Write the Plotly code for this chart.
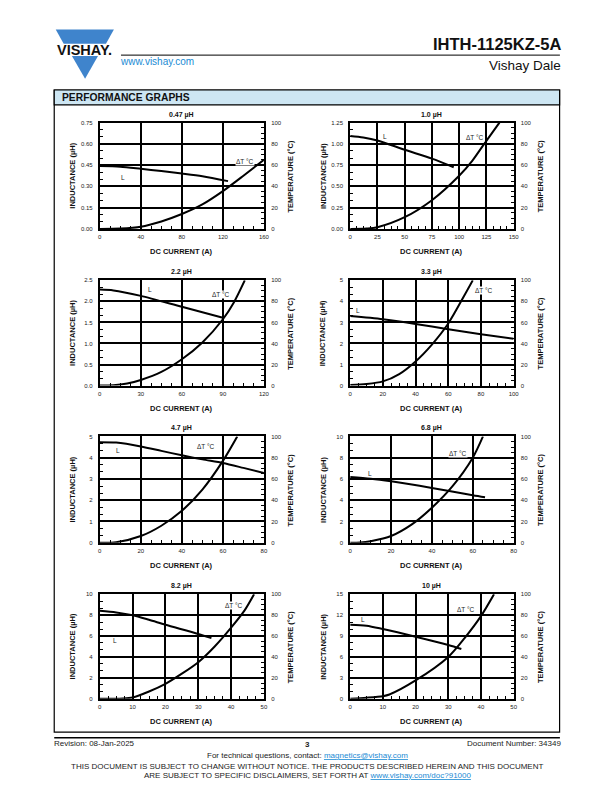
import plotly.graph_objects as go

W, H = 612, 792
FONT = "Liberation Sans, Arial, sans-serif"

# ---------------- data ----------------
TITLES = ["0.47 µH", "1.0 µH", "2.2 µH", "3.3 µH", "4.7 µH", "6.8 µH", "8.2 µH", "10 µH"]
X_MAX = [160, 150, 120, 100, 80, 80, 50, 50]
X_DTICK = [40, 25, 30, 20, 20, 20, 10, 10]
L_MAX = [0.75, 1.25, 2.5, 5, 5, 10, 10, 15]
L_DTICK = [0.15, 0.25, 0.5, 1, 1, 2, 2, 3]
L_FMT = [".2f", ".2f", ".1f", "d", "d", "d", "d", "d"]
T_MAX = 100
T_DTICK = 20

# 0.47 uH
L047_X = [0, 20, 40, 60, 80, 100, 125]
L047_Y = [0.443, 0.439, 0.424, 0.408, 0.391, 0.372, 0.337]
T047_X = [0, 20, 40, 60, 80, 100, 120, 140, 160]
T047_Y = [0, 0.3, 2, 7, 14, 23, 35.5, 50, 65]
# 1.0 uH
L10_X = [0, 12, 25, 50, 75, 95]
L10_Y = [1.093, 1.075, 1.04, 0.93, 0.826, 0.725]
T10_X = [0, 15, 25, 50, 75, 100, 112, 123, 137]
T10_Y = [0, 0.4, 1.6, 11, 27, 50, 64, 80, 100]
# 2.2 uH
L22_X = [0, 10, 30, 60, 90]
L22_Y = [2.28, 2.26, 2.13, 1.87, 1.61]
T22_X = [0, 10, 20, 30, 45, 60, 75, 90, 98, 106]
T22_Y = [0, 0.3, 2, 5.4, 13, 25, 41, 63, 79, 100]
# 3.3 uH
L33_X = [0, 20, 40, 60, 80, 100]
L33_Y = [3.30, 3.15, 2.93, 2.68, 2.44, 2.22]
T33_X = [0, 10, 20, 30, 40, 50, 60, 70, 75]
T33_Y = [0.5, 1.5, 4, 11, 23, 39, 59, 86, 100]
# 4.7 uH
L47_X = [0, 8, 20, 30, 40, 50, 60, 70, 80]
L47_Y = [4.73, 4.71, 4.53, 4.32, 4.11, 3.92, 3.75, 3.52, 3.28]
T47_X = [0, 8, 20, 30, 40, 50, 60, 67]
T47_Y = [0, 0.5, 6.3, 16, 30, 50, 77, 100]
# 6.8 uH
L68_X = [0, 10, 20, 40, 60, 66]
L68_Y = [6.19, 6.03, 5.78, 5.16, 4.47, 4.28]
T68_X = [0, 5, 10, 20, 30, 40, 50, 60, 65]
T68_Y = [0, 0.2, 1.5, 6.3, 17, 33, 53, 80, 100]
# 8.2 uH
L82_X = [0, 5, 10, 15, 20, 30, 34]
L82_Y = [8.41, 8.25, 7.98, 7.55, 7.08, 6.2, 5.8]
T82_X = [0, 7, 10, 15, 20, 25, 30, 35, 40, 44, 47]
T82_Y = [0, 0.3, 1.3, 7, 14.3, 24, 35, 50, 68, 84, 100]
# 10 uH
L100_X = [0, 5, 10, 20, 30, 34]
L100_Y = [10.62, 10.48, 10.0, 8.9, 7.71, 7.14]
T100_X = [0, 5, 10, 12, 20, 30, 35, 40, 44]
T100_Y = [0, 1, 2.5, 4.1, 17.5, 40, 58, 79, 100]

L_LABEL = [(22.6, 0.36), (32, 1.09), (37, 2.28), (4.7, 3.55), (8.9, 4.33), (9.7, 6.56), (4.5, 5.56), (3.9, 11.3)]
T_LABEL = [(142, 63), (114.7, 86), (88.5, 86.8), (82, 90), (52, 90.6), (53, 84), (40.9, 88.9), (35.5, 85)]

L_SERIES = [(L047_X, L047_Y), (L10_X, L10_Y), (L22_X, L22_Y), (L33_X, L33_Y),
            (L47_X, L47_Y), (L68_X, L68_Y), (L82_X, L82_Y), (L100_X, L100_Y)]
T_SERIES = [(T047_X, T047_Y), (T10_X, T10_Y), (T22_X, T22_Y), (T33_X, T33_Y),
            (T47_X, T47_Y), (T68_X, T68_Y), (T82_X, T82_Y), (T100_X, T100_Y)]

# ---------------- layout geometry (pixels) ----------------
COLS = [(98.3, 263.3), (350.0, 514.3)]
ROWS = [(120.0, 226.7), (278.3, 384.0), (435.0, 541.7), (593.3, 698.3)]
PAD = 3  # annotation inner padding compensation
SX, SY = 1.008, 1.004  # small calibration of page placement


def fx(px):
    return px * SX / W


def fy(py):
    return 1 - py * SY / H


fig = go.Figure()
layout = dict(
    width=W, height=H, autosize=False,
    margin=dict(l=0, r=0, t=0, b=0),
    paper_bgcolor="white", plot_bgcolor="white",
    showlegend=False,
    font=dict(family=FONT, color="#111111", size=6),
)
annotations = []
shapes = []

AX_COMMON = dict(
    showline=True, linecolor="black", linewidth=2,
    ticks="", zeroline=False, fixedrange=True,
    tickfont=dict(size=6, family=FONT, color="#222222"),
)

for i in range(8):
    r, c = divmod(i, 2)
    x0, x1 = COLS[c]
    y0, y1 = ROWS[r]
    xid = "x" if i == 0 else f"x{i+1}"
    ylid = "y" if i == 0 else f"y{2*i+1}"
    yrid = f"y{2*i+2}"
    xkey = "xaxis" if i == 0 else f"xaxis{i+1}"
    ylkey = "yaxis" if i == 0 else f"yaxis{2*i+1}"
    yrkey = f"yaxis{2*i+2}"

    layout[xkey] = dict(
        AX_COMMON, domain=[fx(x0), fx(x1)], anchor=ylid,
        range=[0, X_MAX[i]], dtick=X_DTICK[i], tick0=0,
        showgrid=True, gridcolor="black", gridwidth=2, mirror=True,
        ticklabelstandoff=1,
        minor=dict(ticks="inside", ticklen=3, tickcolor="black", tickwidth=1,
                   dtick=X_DTICK[i] / 4, showgrid=False),
    )
    layout[ylkey] = dict(
        AX_COMMON, domain=[fy(y1), fy(y0)], anchor=xid,
        range=[0, L_MAX[i]], dtick=L_DTICK[i], tick0=0, tickformat=L_FMT[i],
        showgrid=True, gridcolor="black", gridwidth=2,
        ticklabelstandoff=4,
        minor=dict(ticks="inside", ticklen=3, tickcolor="black", tickwidth=1,
                   dtick=L_DTICK[i] / 3, showgrid=False),
    )
    layout[yrkey] = dict(
        AX_COMMON, domain=[fy(y1), fy(y0)], anchor=xid, overlaying=ylid, side="right",
        range=[0, T_MAX], dtick=T_DTICK, tick0=0, showgrid=False,
        ticklabelstandoff=4,
        minor=dict(ticks="inside", ticklen=3, tickcolor="black", tickwidth=1,
                   dtick=T_DTICK / 4, showgrid=False),
    )

    lx, ly = L_SERIES[i]
    tx, ty = T_SERIES[i]
    fig.add_trace(go.Scatter(x=lx, y=ly, xaxis=xid, yaxis=ylid, mode="lines",
                             line=dict(color="black", width=2, shape="spline", smoothing=0.8),
                             cliponaxis=True, hoverinfo="skip"))
    fig.add_trace(go.Scatter(x=tx, y=ty, xaxis=xid, yaxis=yrid, mode="lines",
                             line=dict(color="black", width=2, shape="spline", smoothing=0.8),
                             cliponaxis=True, hoverinfo="skip"))

    annotations.append(dict(text=f"<b>{TITLES[i]}</b>", xref="paper", yref="paper",
                            x=fx((x0 + x1) / 2), y=fy(y0 - 8), showarrow=False,
                            xanchor="center", yanchor="middle",
                            font=dict(size=7, family=FONT, color="#111111")))
    annotations.append(dict(text="<b>INDUCTANCE (µH)</b>", xref="paper", yref="paper",
                            x=fx(x0 - 27), y=fy((y0 + y1) / 2), textangle=-90, showarrow=False,
                            xanchor="center", yanchor="middle",
                            font=dict(size=7.5, family=FONT, color="#111111")))
    annotations.append(dict(text="<b>TEMPERATURE (°C)</b>", xref="paper", yref="paper",
                            x=fx(x1 + 27), y=fy((y0 + y1) / 2), textangle=-90, showarrow=False,
                            xanchor="center", yanchor="middle",
                            font=dict(size=7.5, family=FONT, color="#111111")))
    annotations.append(dict(text="<b>DC CURRENT (A)</b>", xref="paper", yref="paper",
                            x=fx((x0 + x1) / 2), y=fy(y1 + 23), showarrow=False,
                            xanchor="center", yanchor="middle",
                            font=dict(size=7.5, family=FONT, color="#111111")))
    annotations.append(dict(text="L", xref=xid, yref=ylid, x=L_LABEL[i][0], y=L_LABEL[i][1],
                            showarrow=False, xanchor="center", yanchor="middle",
                            font=dict(size=6.5, family=FONT, color="#222222")))
    annotations.append(dict(text="ΔT °C", xref=xid, yref=yrid, x=T_LABEL[i][0], y=T_LABEL[i][1],
                            showarrow=False, xanchor="center", yanchor="middle", bgcolor="white",
                            borderpad=0,
                            font=dict(size=6.5, family=FONT, color="#222222")))

# ---------------- page decoration ----------------
BLUE = "#3f84cc"
LINK = "#1a8ad4"


def path(points):
    return "M " + " L ".join(f"{fx(a):.5f},{fy(b):.5f}" for a, b in points) + " Z"


shapes.append(dict(type="path", xref="paper", yref="paper",
                   path=path([(54, 26.5), (112.5, 26.5), (104.5, 41), (62, 41)]),
                   fillcolor=BLUE, line=dict(width=0)))
shapes.append(dict(type="path", xref="paper", yref="paper",
                   path=path([(70.3, 53.3), (96.5, 53.3), (83.5, 76)]),
                   fillcolor=BLUE, line=dict(width=0)))
annotations.append(dict(text="<b>VISHAY.</b>", xref="paper", yref="paper", x=fx(82.5), y=fy(47),
                        showarrow=False, xanchor="center", yanchor="middle",
                        font=dict(size=14.5, family=FONT, color="#111111")))

shapes.append(dict(type="line", xref="paper", yref="paper", x0=fx(119.6), x1=fx(560.8),
                   y0=fy(52.3), y1=fy(52.3), line=dict(color="black", width=1)))
annotations.append(dict(text="<b>IHTH-1125KZ-5A</b>", xref="paper", yref="paper", x=fx(560.8 + PAD), y=fy(40.7),
                        showarrow=False, xanchor="right", yanchor="middle",
                        font=dict(size=16.5, family=FONT, color="#111111")))
annotations.append(dict(text="www.vishay.com", xref="paper", yref="paper", x=fx(119.6 - PAD), y=fy(58.7),
                        showarrow=False, xanchor="left", yanchor="middle",
                        font=dict(size=10, family=FONT, color=LINK)))
annotations.append(dict(text="Vishay Dale", xref="paper", yref="paper", x=fx(560.8 + PAD), y=fy(62.3),
                        showarrow=False, xanchor="right", yanchor="middle",
                        font=dict(size=13.5, family=FONT, color="#111111")))

shapes.append(dict(type="rect", xref="paper", yref="paper", x0=fx(52.5), x1=fx(560.5),
                   y0=fy(731.7), y1=fy(87.3), line=dict(color="black", width=1.2),
                   fillcolor="rgba(0,0,0,0)", layer="below"))
shapes.append(dict(type="rect", xref="paper", yref="paper", x0=fx(52.5), x1=fx(560.5),
                   y0=fy(102.3), y1=fy(87.3), line=dict(color="black", width=1.2),
                   fillcolor="#cde6f3", layer="below"))
annotations.append(dict(text="<b>PERFORMANCE GRAPHS</b>", xref="paper", yref="paper", x=fx(61.6 - PAD), y=fy(94.8),
                        showarrow=False, xanchor="left", yanchor="middle",
                        font=dict(size=10.3, family=FONT, color="#111111")))

shapes.append(dict(type="line", xref="paper", yref="paper", x0=fx(52.5), x1=fx(560.8),
                   y0=fy(737.3), y1=fy(737.3), line=dict(color="black", width=1.5)))
annotations.append(dict(text="Revision: 08-Jan-2025", xref="paper", yref="paper", x=fx(53.7 - PAD), y=fy(743.3),
                        showarrow=False, xanchor="left", yanchor="middle",
                        font=dict(size=8, family=FONT, color="#222222")))
annotations.append(dict(text="<b>3</b>", xref="paper", yref="paper", x=fx(307), y=fy(744),
                        showarrow=False, xanchor="center", yanchor="middle",
                        font=dict(size=8, family=FONT, color="#222222")))
annotations.append(dict(text="Document Number: 34349", xref="paper", yref="paper", x=fx(560.8 + PAD), y=fy(743.3),
                        showarrow=False, xanchor="right", yanchor="middle",
                        font=dict(size=8, family=FONT, color="#222222")))
annotations.append(dict(text=("For technical questions, contact: "
                              f"<span style='color:{LINK};text-decoration:underline'>magnetics@vishay.com</span>"),
                        xref="paper", yref="paper", x=fx(307), y=fy(755.3),
                        showarrow=False, xanchor="center", yanchor="middle",
                        font=dict(size=8, family=FONT, color="#222222")))
annotations.append(dict(text="THIS DOCUMENT IS SUBJECT TO CHANGE WITHOUT NOTICE. THE PRODUCTS DESCRIBED HEREIN AND THIS DOCUMENT",
                        xref="paper", yref="paper", x=fx(307), y=fy(766.5),
                        showarrow=False, xanchor="center", yanchor="middle",
                        font=dict(size=8, family=FONT, color="#222222")))
annotations.append(dict(text=("ARE SUBJECT TO SPECIFIC DISCLAIMERS, SET FORTH AT "
                              f"<span style='color:{LINK};text-decoration:underline'>www.vishay.com/doc?91000</span>"),
                        xref="paper", yref="paper", x=fx(307), y=fy(775),
                        showarrow=False, xanchor="center", yanchor="middle",
                        font=dict(size=8, family=FONT, color="#222222")))

layout["annotations"] = annotations
layout["shapes"] = shapes
fig.update_layout(**layout)

fig.write_html("out.html", config={"displayModeBar": False, "staticPlot": True},
               post_script="document.body.style.margin='0';document.body.style.overflow='hidden';")
